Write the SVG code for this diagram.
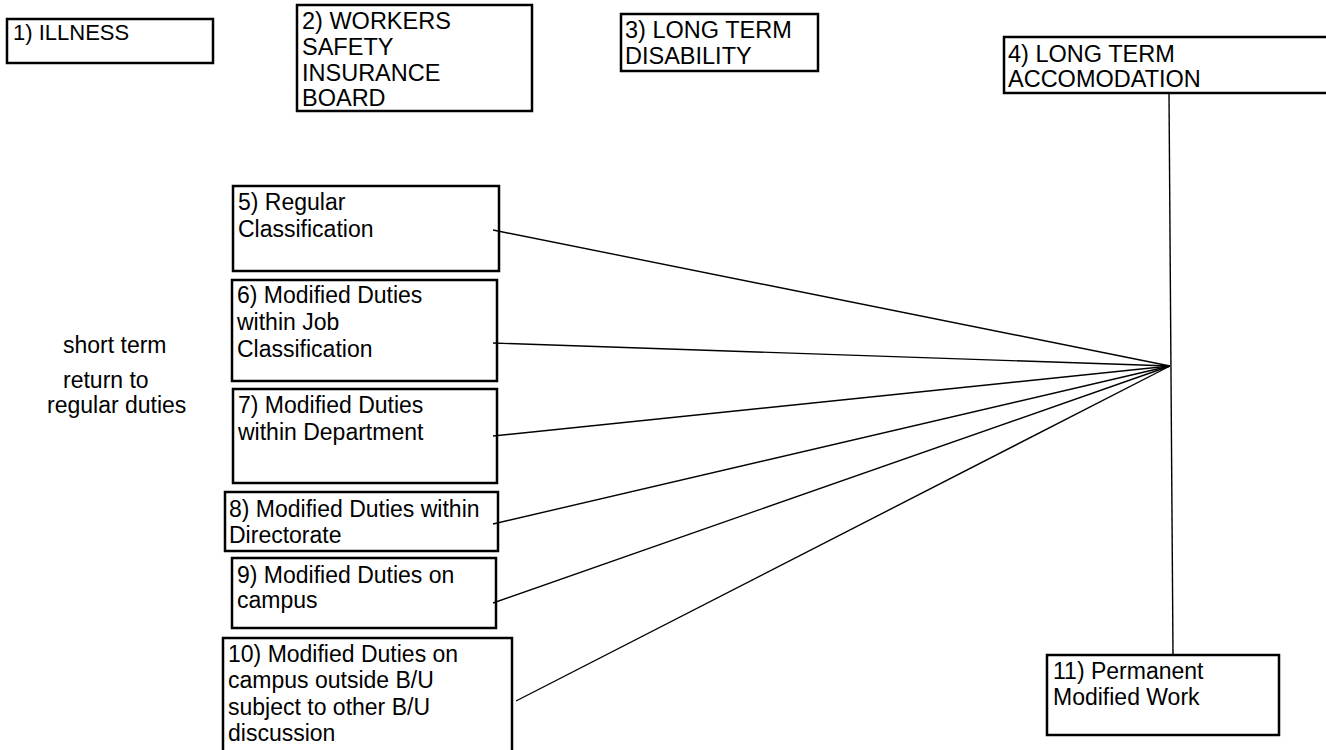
<svg xmlns="http://www.w3.org/2000/svg" width="1326" height="750" viewBox="0 0 1326 750">
<style>
.box{fill:#fff;stroke:#000;stroke-width:2.5}
.t{font-family:"Liberation Sans",Arial,sans-serif;font-size:23px;fill:#000}
.cap{font-size:23.5px}
.c{stroke:#000;stroke-width:1.4;fill:none}
</style>
<rect width="1326" height="750" fill="#fff"/>
<g id="n1"><rect class="box" x="7" y="19" width="206" height="44"/><text class="t" x="13" y="40" style="font-size:22px">1) ILLNESS</text></g>
<g id="n2"><rect class="box" x="297" y="5" width="235" height="106"/><text class="t cap"><tspan x="302" y="29">2) WORKERS</tspan><tspan x="302" y="55">SAFETY</tspan><tspan x="302" y="81">INSURANCE</tspan><tspan x="302" y="106">BOARD</tspan></text></g>
<g id="n3"><rect class="box" x="621" y="14" width="197" height="57"/><text class="t cap"><tspan x="625" y="38">3) LONG TERM</tspan><tspan x="625" y="64">DISABILITY</tspan></text></g>
<g id="n4"><rect class="box" x="1004" y="37" width="340" height="56"/><text class="t cap"><tspan x="1008" y="62">4) LONG TERM</tspan><tspan x="1008" y="87">ACCOMODATION</tspan></text></g>
<g id="n5"><rect class="box" x="233" y="186" width="266" height="85"/><text class="t"><tspan x="238" y="210">5) Regular</tspan><tspan x="238" y="237">Classification</tspan></text></g>
<g id="n6"><rect class="box" x="232" y="280" width="265" height="101"/><text class="t"><tspan x="237" y="303">6) Modified Duties</tspan><tspan x="237" y="330">within Job</tspan><tspan x="237" y="357">Classification</tspan></text></g>
<g id="n7"><rect class="box" x="233" y="389" width="264" height="94"/><text class="t"><tspan x="238" y="413">7) Modified Duties</tspan><tspan x="238" y="440">within Department</tspan></text></g>
<g id="n8"><rect class="box" x="225" y="492" width="273" height="59"/><text class="t"><tspan x="229" y="517">8) Modified Duties within</tspan><tspan x="229" y="543">Directorate</tspan></text></g>
<g id="n9"><rect class="box" x="232" y="558" width="264" height="70"/><text class="t"><tspan x="237" y="583">9) Modified Duties on</tspan><tspan x="237" y="608">campus</tspan></text></g>
<g id="n10"><rect class="box" x="223" y="638" width="289" height="130"/><text class="t"><tspan x="228" y="662">10) Modified Duties on</tspan><tspan x="228" y="688">campus outside B/U</tspan><tspan x="228" y="715">subject to other B/U</tspan><tspan x="228" y="741">discussion</tspan></text></g>
<g id="n11"><rect class="box" x="1047" y="655" width="232" height="80"/><text class="t"><tspan x="1053" y="679">11) Permanent</tspan><tspan x="1053" y="705">Modified Work</tspan></text></g>
<g id="label"><text class="t"><tspan x="63" y="353">short term</tspan><tspan x="63" y="388">return to</tspan><tspan x="47" y="413">regular duties</tspan></text></g>
<g id="connectors">
<line class="c" x1="1169" y1="93" x2="1173" y2="655"/>
<line class="c" x1="493" y1="230" x2="1170" y2="366"/>
<line class="c" x1="493" y1="343" x2="1170" y2="366"/>
<line class="c" x1="493" y1="436" x2="1170" y2="366"/>
<line class="c" x1="493" y1="524" x2="1170" y2="366"/>
<line class="c" x1="493" y1="603" x2="1170" y2="366"/>
<line class="c" x1="516" y1="701" x2="1170" y2="366"/>
</g>
</svg>
